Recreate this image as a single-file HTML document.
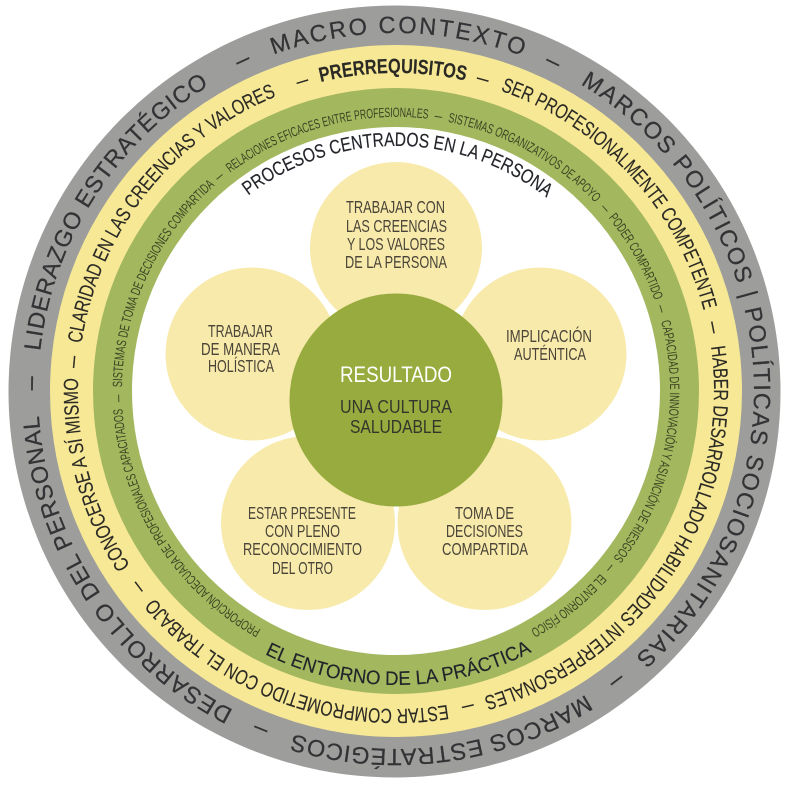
<!DOCTYPE html>
<html><head><meta charset="utf-8">
<style>
html,body{margin:0;padding:0;background:#fff;width:788px;height:794px;overflow:hidden}
svg{display:block}
text{font-family:"Liberation Sans",sans-serif;fill:#38383a}
.g text{font-size:23.5px;fill:#333335;stroke:#333335;stroke-width:.25px}
.y text{font-size:20.5px;fill:#2a2924;stroke:#2a2924;stroke-width:.12px}
.n text{font-size:13.5px;fill:#3c4322}
.p text{font-size:17.5px;fill:#4a4438}
.h text{font-size:19.5px;fill:#22242a;stroke:#22242a;stroke-width:.15px}
</style></head>
<body>
<svg width="788" height="794" viewBox="0 0 788 794" xmlns="http://www.w3.org/2000/svg">
<defs>
<path id="r358" d="M396 33A358 358 0 1 1 396 749A358 358 0 1 1 396 33A358 358 0 1 1 396 749A358 358 0 1 1 396 33"/>
<path id="r318" d="M396 73A318 318 0 1 1 396 709A318 318 0 1 1 396 73A318 318 0 1 1 396 709A318 318 0 1 1 396 73"/>
<path id="r274" d="M396 117A274 274 0 1 1 396 665A274 274 0 1 1 396 117A274 274 0 1 1 396 665A274 274 0 1 1 396 117"/>
<path id="r245" d="M396 146A245 245 0 1 1 396 636A245 245 0 1 1 396 146"/>
<path id="b294" d="M396 685A294 294 0 1 0 396 97A294 294 0 1 0 396 685"/>
</defs>
<circle cx="394.5" cy="391.5" r="386" fill="#9d9d9c"/>
<circle cx="396" cy="391" r="346" fill="#f7e896"/>
<circle cx="396" cy="391" r="303" fill="#a3b75f"/>
<circle cx="396" cy="391" r="264" fill="#fff"/>
<g fill="#f7eaab">
<circle cx="396" cy="248" r="86"/>
<circle cx="252" cy="354" r="86.5"/>
<circle cx="540" cy="354" r="86.5"/>
<circle cx="308" cy="523" r="87"/>
<circle cx="484.5" cy="523" r="87"/>
</g>
<circle cx="396" cy="400" r="106.5" fill="#97ab3e"/>

<g class="g">
<text transform="rotate(340 396 391)"><textPath href="#r358" textLength="254">MACRO CONTEXTO</textPath></text>
<text transform="rotate(24.4 396 391)"><textPath href="#r358" textLength="14" lengthAdjust="spacingAndGlyphs">—</textPath></text>
<text transform="rotate(31 396 391)"><textPath href="#r358" textLength="668.5">MARCOS POLÍTICOS | POLÍTICAS SOCIOSANITARIAS</textPath></text>
<text transform="rotate(141.6 396 391)"><textPath href="#r358" textLength="14" lengthAdjust="spacingAndGlyphs">—</textPath></text>
<text transform="rotate(148 396 391)"><textPath href="#r358" textLength="304">MARCOS ESTRATÉGICOS</textPath></text>
<text transform="rotate(200.7 396 391)"><textPath href="#r358" textLength="14" lengthAdjust="spacingAndGlyphs">—</textPath></text>
<text transform="rotate(207 396 391)"><textPath href="#r358" textLength="368.6">DESARROLLO DEL PERSONAL</textPath></text>
<text transform="rotate(270.1 396 391)"><textPath href="#r358" textLength="14" lengthAdjust="spacingAndGlyphs">—</textPath></text>
<text transform="rotate(276.4 396 391)"><textPath href="#r358" textLength="325.5">LIDERAZGO ESTRATÉGICO</textPath></text>
<text transform="rotate(334 396 391)"><textPath href="#r358" textLength="14" lengthAdjust="spacingAndGlyphs">—</textPath></text>
</g>

<g class="y">
<text transform="rotate(346.3 396 391)" style="font-weight:bold"><textPath href="#r318" textLength="146" lengthAdjust="spacingAndGlyphs">PRERREQUISITOS</textPath></text>
<text transform="rotate(14.5 396 391)"><textPath href="#r318" textLength="12" lengthAdjust="spacingAndGlyphs">—</textPath></text>
<text transform="rotate(19.2 396 391)"><textPath href="#r318" textLength="311.4" lengthAdjust="spacingAndGlyphs">SER PROFESIONALMENTE COMPETENTE</textPath></text>
<text transform="rotate(77.6 396 391)"><textPath href="#r318" textLength="12" lengthAdjust="spacingAndGlyphs">—</textPath></text>
<text transform="rotate(82 396 391)"><textPath href="#r318" textLength="455" lengthAdjust="spacingAndGlyphs">HABER DESARROLLADO HABILIDADES INTERPERSONALES</textPath></text>
<text transform="rotate(166.1 396 391)"><textPath href="#r318" textLength="12" lengthAdjust="spacingAndGlyphs">—</textPath></text>
<text transform="rotate(170.7 396 391)"><textPath href="#r318" textLength="326" lengthAdjust="spacingAndGlyphs">ESTAR COMPROMETIDO CON EL TRABAJO</textPath></text>
<text transform="rotate(231.7 396 391)"><textPath href="#r318" textLength="12" lengthAdjust="spacingAndGlyphs">—</textPath></text>
<text transform="rotate(236.7 396 391)"><textPath href="#r318" textLength="197.6" lengthAdjust="spacingAndGlyphs">CONOCERSE A SÍ MISMO</textPath></text>
<text transform="rotate(274.1 396 391)"><textPath href="#r318" textLength="12" lengthAdjust="spacingAndGlyphs">—</textPath></text>
<text transform="rotate(278.6 396 391)"><textPath href="#r318" textLength="329" lengthAdjust="spacingAndGlyphs">CLARIDAD EN LAS CREENCIAS Y VALORES</textPath></text>
<text transform="rotate(342.1 396 391)"><textPath href="#r318" textLength="12" lengthAdjust="spacingAndGlyphs">—</textPath></text>
</g>

<g class="n">
<text transform="rotate(209.5 396 391)"><textPath href="#r274" textLength="271.6" lengthAdjust="spacingAndGlyphs">PROPORCIÓN ADECUADA DE PROFESIONALES CAPACITADOS</textPath></text>
<text transform="rotate(267.7 396 391)"><textPath href="#r274" textLength="7.6" lengthAdjust="spacingAndGlyphs">—</textPath></text>
<text transform="rotate(270.8 396 391)"><textPath href="#r274" textLength="228.6" lengthAdjust="spacingAndGlyphs">SISTEMAS DE TOMA DE DECISIONES COMPARTIDA</textPath></text>
<text transform="rotate(319.7 396 391)"><textPath href="#r274" textLength="7.6" lengthAdjust="spacingAndGlyphs">—</textPath></text>
<text transform="rotate(322.8 396 391)"><textPath href="#r274" textLength="210" lengthAdjust="spacingAndGlyphs">RELACIONES EFICACES ENTRE PROFESIONALES</textPath></text>
<text transform="rotate(8 396 391)"><textPath href="#r274" textLength="7.6" lengthAdjust="spacingAndGlyphs">—</textPath></text>
<text transform="rotate(10.9 396 391)"><textPath href="#r274" textLength="170.7" lengthAdjust="spacingAndGlyphs">SISTEMAS ORGANIZATIVOS DE APOYO</textPath></text>
<text transform="rotate(48.1 396 391)"><textPath href="#r274" textLength="7.6" lengthAdjust="spacingAndGlyphs">—</textPath></text>
<text transform="rotate(50.8 396 391)"><textPath href="#r274" textLength="95.2" lengthAdjust="spacingAndGlyphs">PODER COMPARTIDO</textPath></text>
<text transform="rotate(72 396 391)"><textPath href="#r274" textLength="7.6" lengthAdjust="spacingAndGlyphs">—</textPath></text>
<text transform="rotate(75.3 396 391)"><textPath href="#r274" textLength="250" lengthAdjust="spacingAndGlyphs">CAPACIDAD DE INNOVACIÓN Y ASUNCIÓN DE RIESGOS</textPath></text>
<text transform="rotate(128.8 396 391)"><textPath href="#r274" textLength="7.6" lengthAdjust="spacingAndGlyphs">—</textPath></text>
<text transform="rotate(131.8 396 391)"><textPath href="#r274" textLength="90" lengthAdjust="spacingAndGlyphs">EL ENTORNO FÍSICO</textPath></text>
</g>

<g class="h">
<text transform="rotate(322.9 396 391)"><textPath href="#r245" textLength="320.7" lengthAdjust="spacingAndGlyphs">PROCESOS CENTRADOS EN LA PERSONA</textPath></text>
<text transform="rotate(26.5 396 391)"><textPath href="#b294" textLength="277" lengthAdjust="spacingAndGlyphs">EL ENTORNO DE LA PRÁCTICA</textPath></text>
</g>

<g class="p">
<text x="346" y="213" textLength="99" lengthAdjust="spacingAndGlyphs">TRABAJAR CON</text>
<text x="346" y="232" textLength="101" lengthAdjust="spacingAndGlyphs">LAS CREENCIAS</text>
<text x="347" y="250" textLength="98" lengthAdjust="spacingAndGlyphs">Y LOS VALORES</text>
<text x="345" y="268" textLength="102" lengthAdjust="spacingAndGlyphs">DE LA PERSONA</text>
<text x="208" y="337" textLength="65" lengthAdjust="spacingAndGlyphs">TRABAJAR</text>
<text x="201" y="355" textLength="79" lengthAdjust="spacingAndGlyphs">DE MANERA</text>
<text x="208" y="372" textLength="66" lengthAdjust="spacingAndGlyphs">HOLÍSTICA</text>
<text x="506" y="342" textLength="86" lengthAdjust="spacingAndGlyphs">IMPLICACIÓN</text>
<text x="514" y="360" textLength="72" lengthAdjust="spacingAndGlyphs">AUTÉNTICA</text>
<text x="248" y="519" textLength="108" lengthAdjust="spacingAndGlyphs">ESTAR PRESENTE</text>
<text x="265" y="537" textLength="75" lengthAdjust="spacingAndGlyphs">CON PLENO</text>
<text x="243" y="555" textLength="119" lengthAdjust="spacingAndGlyphs">RECONOCIMIENTO</text>
<text x="272" y="574" textLength="61" lengthAdjust="spacingAndGlyphs">DEL OTRO</text>
<text x="455" y="519" textLength="59" lengthAdjust="spacingAndGlyphs">TOMA DE</text>
<text x="446" y="537" textLength="77" lengthAdjust="spacingAndGlyphs">DECISIONES</text>
<text x="442" y="555" textLength="86" lengthAdjust="spacingAndGlyphs">COMPARTIDA</text>
</g>

<text x="340" y="382" style="font-size:22px;fill:#fff" textLength="112" lengthAdjust="spacingAndGlyphs">RESULTADO</text>
<text x="340" y="413" style="font-size:18px;fill:#34362c" textLength="112" lengthAdjust="spacingAndGlyphs">UNA CULTURA</text>
<text x="350" y="433" style="font-size:18px;fill:#34362c" textLength="92" lengthAdjust="spacingAndGlyphs">SALUDABLE</text>
</svg>
</body></html>
